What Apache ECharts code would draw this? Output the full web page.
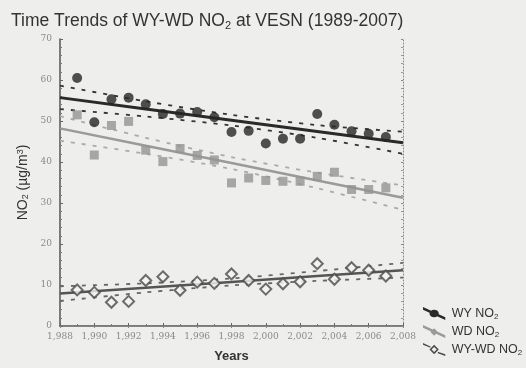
<!DOCTYPE html>
<html>
<head>
<meta charset="utf-8">
<script src="https://cdn.jsdelivr.net/npm/echarts@6/dist/echarts.min.js"></script>
<style>
  html, body { margin: 0; padding: 0; background: #eeeeec; }
  #chart { width: 526px; height: 368px; }
</style>
</head>
<body>
<div id="chart"></div>
<script>
// Annual means at VESN, 1989-2007 (µg/m³)
var years = [1989, 1990, 1991, 1992, 1993, 1994, 1995, 1996, 1997, 1998,
             1999, 2000, 2001, 2002, 2003, 2004, 2005, 2006, 2007];
var wyNO2 = [60.5, 49.7, 55.3, 55.7, 54.1, 51.7, 51.8, 52.2, 50.9, 47.3,
             47.6, 44.5, 45.7, 45.7, 51.7, 49.1, 47.5, 46.9, 46.1];
var wdNO2 = [51.5, 41.7, 48.9, 49.9, 42.9, 40.1, 43.3, 41.6, 40.5, 34.9,
             36.1, 35.5, 35.3, 35.3, 36.5, 37.5, 33.3, 33.3, 33.7];
var diffNO2 = [8.8, 8.2, 5.8, 6.0, 11.1, 12.0, 8.7, 10.7, 10.4, 12.7,
               11.1, 9.0, 10.3, 10.8, 15.2, 11.4, 14.2, 13.6, 12.2];

// Fitted trends and confidence limits
var fitYears = [1988, 1993, 1998, 2003, 2008];
var wyTrend = [55.7, 52.95, 50.2, 47.45, 44.7];
var wyUpper = [58.6, 54.8, 51.5, 49.0, 47.4];
var wyLower = [52.9, 51.1, 48.9, 45.9, 42.0];
var wdTrend = [48.2, 43.98, 39.75, 35.5, 31.3];
var wdUpper = [51.2, 45.9, 41.2, 37.4, 34.3];
var wdLower = [45.2, 42.0, 38.3, 33.6, 28.3];
var diffTrend = [7.9, 9.3, 10.75, 12.2, 13.6];
var diffUpper = [9.7, 10.4, 11.6, 13.4, 15.4];
var diffLower = [6.1, 8.2, 9.9, 11.0, 11.8];

var xTicks = [1988, 2008, 2];
var yTicks = [0, 70, 10];

var seriesNames = ['WY NO2', 'WD NO2', 'WY-WD NO2'];

function pairs(xs, ys) {
  return xs.map(function (x, i) { return [x, ys[i]]; });
}

function trendLine(name, values, color, width) {
  return {
    name: name, type: 'line', data: pairs(fitYears, values),
    symbol: 'none', silent: true, z: 2,
    lineStyle: { color: color, width: width }
  };
}
function bandLine(name, values, color) {
  return {
    name: name, type: 'line', data: pairs(fitYears, values),
    symbol: 'none', smooth: 0.3, silent: true, z: 1,
    lineStyle: { color: color, width: 1.8, type: [4, 7] }
  };
}

var chart = echarts.init(document.getElementById('chart'));

chart.setOption({
  backgroundColor: '#eeeeec',
  animation: false,
  textStyle: { fontFamily: 'Liberation Sans, Arial, sans-serif' },
  title: {
    text: 'Time Trends of WY-WD NO{s|2} at VESN (1989-2007)',
    left: 6, top: 6,
    textStyle: {
      fontSize: 17.5, fontWeight: 'normal', color: '#333',
      rich: { s: { fontSize: 11, color: '#333', padding: [9, 0, 0, 0] } }
    }
  },
  legend: {
    orient: 'vertical', left: 418, top: 302, itemGap: 4,
    itemWidth: 25, itemHeight: 13,
    data: [
      { name: seriesNames[0], icon: 'path://M0,0 L24,11 L24,14 L0,3 Z M17,7 A5,4 0 1,1 7,7 A5,4 0 1,1 17,7 Z', itemStyle: { color: '#2a2a2a' } },
      { name: seriesNames[1], icon: 'path://M0,0 L24,11 L24,14 L0,3 Z M16,7.5 L12,11.5 L8,7.5 L12,3.5 Z', itemStyle: { color: '#9a9a9a' } },
      { name: seriesNames[2], icon: 'path://M0,0 L8,3.7 L8,5.2 L0,2 Z M16,9.3 L24,12 L24,14 L16,11 Z M17,7 L12,2 L7,7 L12,12 Z M14.8,7 L12,9.8 L9.2,7 L12,4.2 Z', itemStyle: { color: '#4a4a4a' } }
    ],
    formatter: function (n) { return n.replace('NO2', 'NO{s|2}'); },
    textStyle: {
      fontSize: 12.5, color: '#333',
      rich: { s: { fontSize: 8, color: '#333', padding: [7, 0, 0, 0] } }
    }
  },
  grid: { left: 60, right: 123, top: 39, bottom: 38 },
  xAxis: [{
    type: 'value', min: xTicks[0], max: xTicks[1], interval: xTicks[2],
    name: 'Years', nameLocation: 'middle', nameGap: 24,
    nameTextStyle: { fontSize: 13, fontWeight: 'bold', color: '#333' },
    axisLine: { show: true, lineStyle: { color: '#555', width: 1.5 } },
    axisTick: { show: true, inside: true, length: 3, lineStyle: { color: '#666' } },
    minorTick: { show: true, splitNumber: 2, length: 2, lineStyle: { color: '#777' } },
    splitLine: { show: false },
    axisLabel: { fontSize: 9, color: '#8a8a8a', margin: 6, fontFamily: 'DejaVu Serif, serif' }
  }, {
    type: 'value', position: 'top', min: xTicks[0], max: xTicks[1], interval: xTicks[2],
    axisLine: { show: true, lineStyle: { color: '#888', width: 1, type: [1, 2] } },
    axisTick: { show: true, inside: true, length: 2, lineStyle: { color: '#888' } },
    axisLabel: { show: false }, splitLine: { show: false }
  }],
  yAxis: [{
    type: 'value', min: yTicks[0], max: yTicks[1], interval: yTicks[2],
    name: 'NO{s|2} (µg/m{p|3})', nameLocation: 'middle', nameGap: 29,
    nameTextStyle: {
      fontSize: 14, color: '#333',
      rich: {
        s: { fontSize: 9, color: '#333', verticalAlign: 'bottom' },
        p: { fontSize: 9, color: '#333', verticalAlign: 'top' }
      }
    },
    axisLine: { show: true, lineStyle: { color: '#555', width: 1.5 } },
    axisTick: { show: true, inside: true, length: 3, lineStyle: { color: '#666' } },
    minorTick: { show: true, splitNumber: 5, length: 2, lineStyle: { color: '#777' } },
    splitLine: { show: false },
    axisLabel: { fontSize: 9, color: '#8a8a8a', margin: 8, fontFamily: 'DejaVu Serif, serif' }
  }, {
    type: 'value', position: 'right', min: yTicks[0], max: yTicks[1], interval: yTicks[2],
    axisLine: { show: true, lineStyle: { color: '#888', width: 1, type: [1, 2] } },
    axisTick: { show: true, inside: true, length: 2, lineStyle: { color: '#888' } },
    minorTick: { show: true, splitNumber: 5, length: 2, lineStyle: { color: '#999' } },
    axisLabel: { show: false }, splitLine: { show: false }
  }],
  series: [
    bandLine(seriesNames[0], wyUpper, '#333'),
    bandLine(seriesNames[0], wyLower, '#333'),
    trendLine(seriesNames[0], wyTrend, '#2a2a2a', 3),
    bandLine(seriesNames[1], wdUpper, '#aaa'),
    bandLine(seriesNames[1], wdLower, '#aaa'),
    trendLine(seriesNames[1], wdTrend, '#9a9a9a', 2.5),
    bandLine(seriesNames[2], diffUpper, '#666'),
    bandLine(seriesNames[2], diffLower, '#666'),
    trendLine(seriesNames[2], diffTrend, '#555', 2.5),
    {
      name: seriesNames[0], type: 'scatter', data: pairs(years, wyNO2), z: 4,
      symbol: 'circle', symbolSize: 10, itemStyle: { color: '#262626' }
    },
    {
      name: seriesNames[1], type: 'scatter', data: pairs(years, wdNO2), z: 3,
      symbol: 'rect', symbolSize: 9, itemStyle: { color: '#949494' }
    },
    {
      name: seriesNames[2], type: 'scatter', data: pairs(years, diffNO2), z: 4,
      symbol: 'diamond', symbolSize: 11,
      itemStyle: { color: '#f4f4f2', borderColor: '#4a4a4a', borderWidth: 2 }
    }
  ]
});
</script>
</body>
</html>
